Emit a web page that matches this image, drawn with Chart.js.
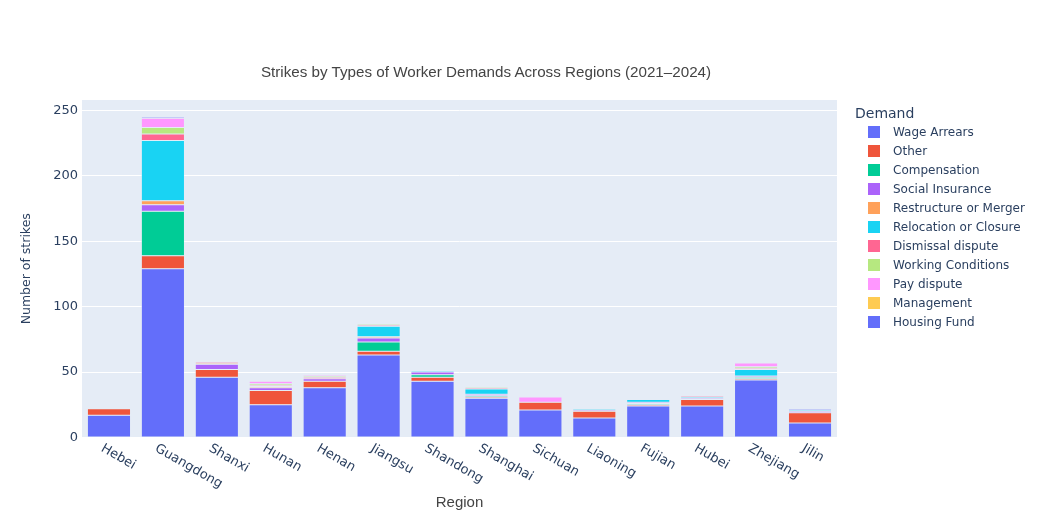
<!DOCTYPE html>
<html>
<head>
<meta charset="utf-8">
<script src="https://cdn.jsdelivr.net/npm/chart.js@4/dist/chart.umd.min.js"></script>
<style>
  html, body { margin: 0; padding: 0; background: #fff; }
  #wrap { position: relative; width: 1046px; height: 525px; overflow: hidden; background: #fff; }
  #c { position: absolute; left: 0; top: 0; }
  #title { position: absolute; left: 0; top: 62px; width: 972px; text-align: center;
           font: 15.2px "Liberation Sans", Arial, sans-serif; color: #444; line-height: 20px; white-space: nowrap; }
  #legend { position: absolute; left: 855px; top: 103px; font-family: "DejaVu Sans", Verdana, sans-serif; color: #2a3f5f; }
  #legend .lt { font-size: 14px; line-height: 20px; height: 20px; margin-bottom: -0.5px; }
  #legend .it { position: relative; height: 19px; line-height: 19px; font-size: 12px; white-space: nowrap; }
  #legend .bx { position: absolute; left: 13px; top: 3.5px; width: 12px; height: 12px; }
  #legend .tx { position: absolute; left: 38px; top: 0; }
</style>
</head>
<body>
<div id="wrap">
  <canvas id="c" width="1046" height="525"></canvas>
  <div id="title">Strikes by Types of Worker Demands Across Regions (2021–2024)</div>
  <div id="legend"></div>
</div>
<script>
// ---- data ----
const regions = ["Hebei","Guangdong","Shanxi","Hunan","Henan","Jiangsu","Shandong","Shanghai","Sichuan","Liaoning","Fujian","Hubei","Zhejiang","Jilin"];
const demandTypes = ["Wage Arrears","Other","Compensation","Social Insurance","Restructure or Merger","Relocation or Closure","Dismissal dispute","Working Conditions","Pay dispute","Management","Housing Fund"];

const wageArrears         = [17,129,46,25,38,63,43,30,21,15,24,24,44,11];
const other               = [ 5, 10, 6,11, 5, 3, 3, 1, 6, 5, 1, 5, 1, 8];
const compensation        = [ 0, 34, 0, 0, 0, 7, 2, 1, 0, 0, 1, 0, 1, 0];
const socialInsurance     = [ 0,  5, 4, 2, 2, 3, 2, 1, 0, 1, 1, 1, 1, 1];
const restructureMerger   = [ 0,  3, 1, 1, 0, 1, 0, 0, 0, 0, 0, 0, 0, 0];
const relocationClosure   = [ 0, 46, 0, 0, 0, 8, 1, 4, 0, 1, 2, 1, 5, 1];
const dismissalDispute    = [ 0,  5, 1, 1, 1, 1, 0, 1, 0, 0, 0, 1, 1, 0];
const workingConditions   = [ 0,  5, 0, 1, 1, 1, 0, 1, 0, 0, 0, 0, 1, 0];
const payDispute          = [ 0,  7, 0, 2, 1, 0, 0, 0, 4, 0, 0, 0, 3, 0];
const management          = [ 0,  0, 0, 0, 0, 0, 0, 0, 0, 0, 0, 0, 0, 0];
const housingFund         = [ 0,  1, 0, 0, 0, 0, 0, 0, 0, 0, 0, 0, 0, 1];

const yTicks = [0, 50, 100, 150, 200, 250];

const seriesValues = [wageArrears, other, compensation, socialInsurance, restructureMerger,
  relocationClosure, dismissalDispute, workingConditions, payDispute, management, housingFund];
const colors = ["#636efa","#EF553B","#00cc96","#ab63fa","#FFA15A","#19d3f3","#FF6692","#B6E880","#FF97FF","#FECB52","#636efa"];

// ---- legend (HTML) ----
const leg = document.getElementById('legend');
const lt = document.createElement('div'); lt.className = 'lt'; lt.textContent = 'Demand'; leg.appendChild(lt);
demandTypes.forEach((name, i) => {
  const it = document.createElement('div'); it.className = 'it';
  const bx = document.createElement('div'); bx.className = 'bx'; bx.style.background = colors[i];
  const tx = document.createElement('div'); tx.className = 'tx'; tx.textContent = name;
  it.appendChild(bx); it.appendChild(tx); leg.appendChild(it);
});

// ---- rotated x tick labels plugin ----
const rotatedTicks = {
  id: 'rotatedTicks',
  afterDraw(chart) {
    const xs = chart.scales.x;
    const ctx = chart.ctx;
    ctx.save();
    ctx.font = '13px "DejaVu Sans", Verdana, sans-serif';
    ctx.fillStyle = '#2a3f5f';
    ctx.textAlign = 'left';
    ctx.textBaseline = 'middle';
    regions.forEach((lab, i) => {
      const x = xs.getPixelForTick(i);
      ctx.save();
      ctx.translate(x - 7, xs.top + 10);
      ctx.rotate(Math.PI / 6);
      ctx.fillText(lab, 0, 0);
      ctx.restore();
    });
    ctx.restore();
  }
};

new Chart(document.getElementById('c'), {
  type: 'bar',
  data: {
    labels: regions,
    datasets: demandTypes.map((name, i) => ({
      label: name,
      data: seriesValues[i],
      backgroundColor: colors[i],
      borderColor: '#E5ECF6',
      borderWidth: 0.5,
      borderSkipped: false,
      barPercentage: 0.8,
      categoryPercentage: 1.0
    }))
  },
  options: {
    responsive: false,
    animation: false,
    devicePixelRatio: 1,
    layout: { padding: { left: 0, top: 100, right: 209, bottom: 0 } },
    plugins: {
      legend: { display: false },
      title: { display: false },
      tooltip: { enabled: false }
    },
    scales: {
      x: {
        stacked: true,
        grid: { display: false },
        border: { display: false },
        ticks: { display: false },
        title: {
          display: true, text: 'Region', color: '#444',
          font: { family: '"Liberation Sans", Arial, sans-serif', size: 15 },
          padding: { top: 0, bottom: 13 }
        },
        afterFit(s) { s.height = 87.5; }
      },
      y: {
        stacked: true,
        min: 0,
        max: 258,
        afterBuildTicks(s) { s.ticks = yTicks.map(v => ({ value: v })); },
        ticks: {
          color: '#2a3f5f', padding: 4,
          font: { family: '"DejaVu Sans", Verdana, sans-serif', size: 13 }
        },
        grid: { color: '#ffffff', lineWidth: 1, drawTicks: false },
        border: { display: false },
        title: {
          display: true, text: 'Number of strikes', color: '#2a3f5f',
          font: { family: '"DejaVu Sans", Verdana, sans-serif', size: 12.5 },
          padding: { top: 19.5, bottom: 0 }
        },
        afterFit(s) { s.width = 82; }
      }
    }
  },
  plugins: [{
    id: 'bg',
    beforeDraw(chart) {
      const a = chart.chartArea, ctx = chart.ctx;
      ctx.save(); ctx.fillStyle = '#E5ECF6';
      ctx.fillRect(a.left, a.top, a.right - a.left, a.bottom - a.top);
      ctx.restore();
    }
  }, rotatedTicks]
});
</script>
</body>
</html>
